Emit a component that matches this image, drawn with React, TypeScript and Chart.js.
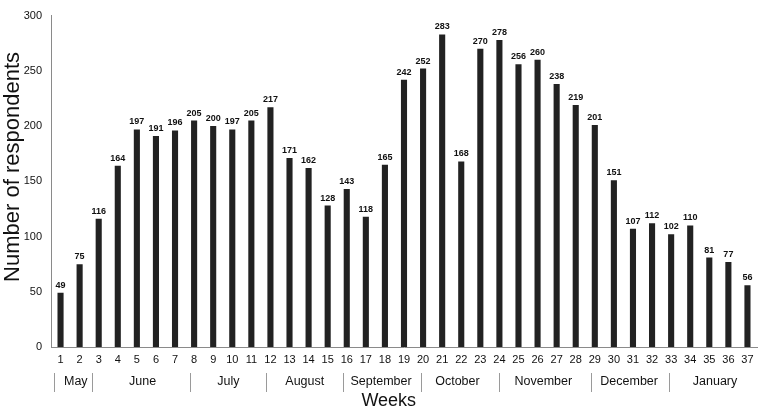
import React, { useEffect, useRef } from "react";
import { Chart, registerables } from "chart.js";

Chart.register(...registerables);

const weeks: string[] = Array.from({ length: 37 }, (_, i) => String(i + 1));
const respondents: number[] = [
  49, 75, 116, 164, 197, 191, 196, 205, 200, 197, 205, 217, 171, 162, 128, 143, 118, 165, 242, 252,
  283, 168, 270, 278, 256, 260, 238, 219, 201, 151, 107, 112, 102, 110, 81, 77, 56,
];
const yTicks: number[] = [0, 50, 100, 150, 200, 250, 300];
const monthNames: string[] = ["May", "June", "July", "August", "September", "October", "November", "December", "January"];
const monthFirstWeek: number[] = [1, 3, 8, 12, 16, 20, 24, 29, 33];
const monthLastWeek: number[] = [2, 7, 11, 15, 19, 23, 28, 32, 37];
const monthDividers: number[] = [0.66, 2.64, 7.76, 11.77, 15.79, 19.9, 23.98, 28.8, 32.9];
const yTitle = "Number of respondents";
const xTitle = "Weeks";

const FONT = "'Liberation Sans', Arial, Helvetica, sans-serif";

const extrasPlugin = {
  id: "extras",
  afterDatasetsDraw(chart: any) {
    const ctx = chart.ctx;
    const meta = chart.getDatasetMeta(0);
    ctx.save();
    ctx.fillStyle = "#111";
    ctx.font = `bold 9px ${FONT}`;
    ctx.textAlign = "center";
    ctx.textBaseline = "bottom";
    meta.data.forEach((bar: any, i: number) => {
      ctx.fillText(String(respondents[i]), bar.x, bar.y - 3);
    });
    ctx.restore();
  },
  afterDraw(chart: any) {
    const ctx = chart.ctx;
    const xs = chart.scales.x;
    const ys = chart.scales.y;
    ctx.save();
    ctx.strokeStyle = "#9a9a9a";
    ctx.lineWidth = 1;
    monthDividers.forEach((w) => {
      const px = Math.round(xs.getPixelForValue(w - 1)) + 0.5;
      ctx.beginPath();
      ctx.moveTo(px, 373);
      ctx.lineTo(px, 392);
      ctx.stroke();
    });
    ctx.fillStyle = "#111";
    ctx.font = `12.5px ${FONT}`;
    ctx.textAlign = "center";
    ctx.textBaseline = "middle";
    monthNames.forEach((m, i) => {
      const c = (monthFirstWeek[i] + monthLastWeek[i]) / 2 - 1 + 0.3;
      ctx.fillText(m, xs.getPixelForValue(c), 382);
    });
    ctx.font = `18px ${FONT}`;
    ctx.fillText(xTitle, xs.getPixelForValue(17.2), 401);
    // y title
    ctx.save();
    ctx.translate(19, ys.getPixelForValue(163));
    ctx.rotate(-Math.PI / 2);
    ctx.font = `22px ${FONT}`;
    ctx.textAlign = "center";
    ctx.textBaseline = "alphabetic";
    ctx.fillText(yTitle, 0, 0);
    ctx.restore();
    ctx.restore();
  },
};

export default function App() {
  const ref = useRef<HTMLCanvasElement | null>(null);
  useEffect(() => {
    if (!ref.current) return;
    const chart = new Chart(ref.current, {
      type: "bar",
      data: {
        labels: weeks,
        datasets: [
          {
            data: respondents,
            backgroundColor: "#222222",
            categoryPercentage: 1,
            barPercentage: 0.32,
          },
        ],
      },
      options: {
        animation: false,
        responsive: false,
        devicePixelRatio: 1,
        layout: { padding: { left: 0, right: 3, top: 7, bottom: 0 } },
        plugins: { legend: { display: false }, tooltip: { enabled: false } },
        scales: {
          x: {
            grid: { display: false, drawTicks: false },
            border: { display: true, color: "#8a8a8a", width: 1 },
            ticks: { color: "#111", font: { family: FONT, size: 11 }, padding: 6, maxRotation: 0, autoSkip: false },
            afterFit(scale: any) {
              scale.height = 66;
            },
          },
          y: {
            min: 0,
            max: 300,
            grid: { display: false, drawTicks: false },
            border: { display: true, color: "#8a8a8a", width: 1 },
            afterBuildTicks(scale: any) {
              scale.ticks = yTicks.map((v) => ({ value: v }));
            },
            ticks: { color: "#111", font: { family: FONT, size: 11 }, padding: 9 },
            afterFit(scale: any) {
              scale.width = 51;
            },
          },
        },
      },
      plugins: [extrasPlugin],
    });
    return () => chart.destroy();
  }, []);
  return (
    <div style={{ position: "absolute", left: 0, top: 0, width: 760, height: 413, background: "#fff" }}>
      <canvas ref={ref} width={760} height={413} style={{ width: 760, height: 413 }} />
    </div>
  );
}
